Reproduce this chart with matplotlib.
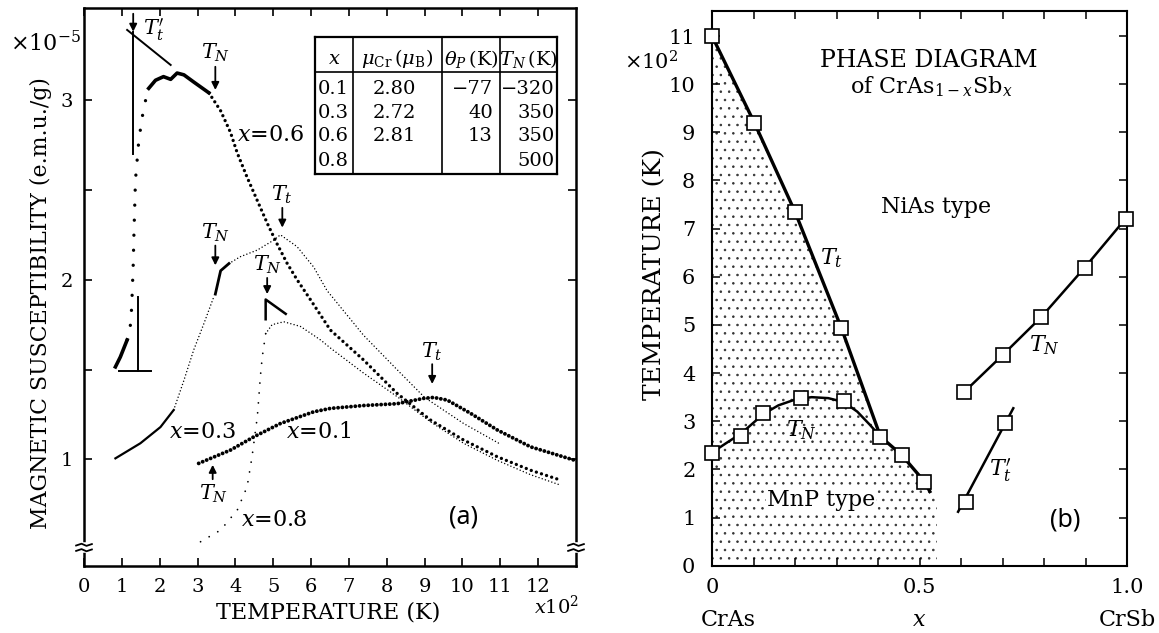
import numpy as np
import matplotlib.pyplot as plt
from matplotlib.patches import Polygon
from matplotlib.transforms import blended_transform_factory

plt.rcParams['font.family'] = 'DejaVu Serif'
plt.rcParams['mathtext.fontset'] = 'dejavuserif'
plt.rcParams['hatch.linewidth'] = 0.6

# ---------------- panel (a) data : T in 100 K, chi in 1e-5 emu/g ----------------
# x = 0.1
x01_T = [3.03, 3.87, 4.49, 5.19, 6.07, 6.51, 7.39, 8.27, 8.98, 9.24, 9.60, 10.21, 10.92, 11.80, 12.94]
x01_chi = [0.978, 1.052, 1.126, 1.20, 1.265, 1.284, 1.30, 1.31, 1.34, 1.345, 1.33, 1.257, 1.164, 1.07, 0.997]
# x = 0.3
x03_solid_T = [0.83, 1.49, 2.02, 2.37]
x03_solid_chi = [1.006, 1.09, 1.18, 1.275]
x03_rise_T = [2.37, 2.64, 2.90, 3.17, 3.43]
x03_rise_chi = [1.275, 1.44, 1.61, 1.757, 1.905]
x03_kink_T = [3.47, 3.61, 3.83]
x03_kink_chi = [1.92, 2.05, 2.09]
x03_T = [3.83, 4.13, 4.58, 5.01, 5.19, 5.63, 6.07, 6.42, 7.39, 8.27, 9.00, 10.03, 10.96]
x03_chi = [2.09, 2.128, 2.165, 2.22, 2.25, 2.184, 2.07, 1.94, 1.69, 1.50, 1.345, 1.20, 1.09]
# x = 0.6
x06_low_T = [0.83, 0.96, 1.14]
x06_low_chi = [1.515, 1.57, 1.665]
x06_rise_T = [1.14, 1.21, 1.25, 1.27, 1.30, 1.32, 1.36, 1.45, 1.58, 1.71]
x06_rise_chi = [1.665, 1.71, 1.81, 1.905, 2.08, 2.26, 2.555, 2.78, 2.96, 3.065]
x06_top_T = [1.71, 1.89, 2.10, 2.29, 2.46, 2.64, 2.90, 3.30]
x06_top_chi = [3.065, 3.11, 3.13, 3.115, 3.15, 3.14, 3.10, 3.04]
x06_T = [3.30, 3.61, 3.87, 4.05, 4.31, 4.58, 4.84, 5.10, 5.37, 5.63, 5.98, 6.51, 7.39, 8.27, 9.15, 10.03, 10.92, 11.80, 12.59]
x06_chi = [3.04, 2.94, 2.82, 2.705, 2.57, 2.44, 2.315, 2.20, 2.09, 2.00, 1.89, 1.72, 1.553, 1.368, 1.22, 1.108, 1.015, 0.94, 0.885]
# x = 0.8
x08_rise_T = [3.08, 3.61, 4.05, 4.31, 4.44, 4.58, 4.66, 4.71, 4.80]
x08_rise_chi = [0.542, 0.607, 0.718, 0.848, 1.015, 1.238, 1.46, 1.57, 1.70]
x08_T = [4.80, 4.97, 5.28, 5.72, 6.25, 6.51, 7.39, 8.27, 9.15, 10.03, 10.92, 11.80, 12.55]
x08_chi = [1.70, 1.75, 1.766, 1.74, 1.665, 1.62, 1.48, 1.35, 1.21, 1.09, 0.995, 0.915, 0.86]
x08_kink_T = [4.80, 4.80, 5.33]
x08_kink_chi = [1.78, 1.89, 1.81]

# construction lines for T_t'
tt_vert_up = ([1.30, 1.30], [2.70, 3.38])
tt_diag = ([1.14, 2.29], [3.39, 3.195])
tt_vert_low = ([1.42, 1.42], [1.49, 1.905])
tt_horiz = ([0.92, 1.78], [1.49, 1.49])

# table
tab_x = ['0.1', '0.3', '0.6', '0.8']
tab_mu = ['2.80', '2.72', '2.81', '']
tab_theta = ['\u221277', '40', '13', '']
tab_tn = ['\u2212320', '350', '350', '500']

# ---------------- panel (b) data ----------------
tt_pts_x = [0.0, 0.102, 0.200, 0.312, 0.406, 0.457, 0.512]
tt_pts_y = [11.0, 9.2, 7.35, 4.93, 2.68, 2.30, 1.745]
tt_line_x = [0.0, 0.102, 0.200, 0.312, 0.406, 0.457, 0.512, 0.525]
tt_line_y = [11.0, 9.2, 7.35, 4.93, 2.68, 2.30, 1.745, 1.54]
tn1_pts_x = [0.0, 0.071, 0.124, 0.215, 0.317]
tn1_pts_y = [2.35, 2.69, 3.18, 3.49, 3.43]
tn1_curve_x = [0.0, 0.035, 0.071, 0.10, 0.124, 0.16, 0.20, 0.24, 0.28, 0.317, 0.35, 0.38, 0.406]
tn1_curve_y = [2.35, 2.55, 2.75, 2.97, 3.15, 3.33, 3.45, 3.50, 3.48, 3.40, 3.20, 2.93, 2.68]
tn2_x = [0.608, 0.701, 0.793, 0.898, 0.997]
tn2_y = [3.61, 4.38, 5.16, 6.19, 7.21]
ttp_pts_x = [0.611, 0.705]
ttp_pts_y = [1.33, 2.97]
ttp_line_x = [0.593, 0.726]
ttp_line_y = [1.12, 3.27]
mnp_x = [0.0, 0.0, 0.102, 0.200, 0.312, 0.406, 0.457, 0.512, 0.525, 0.542, 0.542]
mnp_y = [0.0, 11.0, 9.2, 7.35, 4.93, 2.68, 2.30, 1.745, 1.54, 1.45, 0.0]

W, H = 1159, 633


def fpos(l, t, r, b):
    return [l / W, 1 - b / H, (r - l) / W, (b - t) / H]


fig = plt.figure(figsize=(W / 100, H / 100), dpi=100)

# ======================= (a) =======================
ax1 = fig.add_axes(fpos(84, 8, 576, 566))
ax1.set_xlim(0, 13)
ax1.set_ylim(0.407, 3.512)

heavy = dict(color='k', lw=2.4, linestyle=(0, (0.01, 1.6)), dash_capstyle='round')
heavy01 = dict(color='k', lw=2.8, linestyle=(0, (0.01, 1.1)), dash_capstyle='round')
thin = dict(color='k', lw=1.1, linestyle=(0, (0.01, 2.2)), dash_capstyle='round')
sparse_big = dict(color='k', lw=2.4, linestyle=(0, (0.01, 4.5)), dash_capstyle='round')
sparse_thin = dict(color='k', lw=1.3, linestyle=(0, (0.01, 5.5)), dash_capstyle='round')

ax1.plot(x01_T, x01_chi, **heavy01)
ax1.plot(x03_solid_T, x03_solid_chi, color='k', lw=1.6)
ax1.plot(x03_rise_T, x03_rise_chi, **thin)
ax1.plot(x03_kink_T, x03_kink_chi, color='k', lw=2.0)
ax1.plot(x03_T, x03_chi, **thin)
ax1.plot(x06_low_T, x06_low_chi, color='k', lw=2.6)
ax1.plot(x06_rise_T, x06_rise_chi, **sparse_big)
ax1.plot(x06_top_T, x06_top_chi, color='k', lw=2.6)
ax1.plot(x06_T, x06_chi, **heavy)
ax1.plot(x08_rise_T, x08_rise_chi, **sparse_thin)
ax1.plot(x08_T, x08_chi, **thin)
ax1.plot(x08_kink_T, x08_kink_chi, color='k', lw=1.8)

for xs, ys in (tt_vert_up, tt_diag, tt_vert_low, tt_horiz):
    ax1.plot(xs, ys, color='k', lw=1.4)

ax1.set_xticks(range(0, 13))
ax1.set_yticks([1, 1.5, 2, 2.5, 3], ['1', '', '2', '', '3'])
ax1.tick_params(direction='in', top=True, right=True, length=6, width=1.2,
                labelsize=14)
ax1.tick_params(axis='x', pad=9)
ax1.tick_params(axis='y', pad=8)
for s in ax1.spines.values():
    s.set_linewidth(1.8)

arrow = dict(arrowstyle='-|>', color='k', lw=1.3, mutation_scale=11, shrinkA=0, shrinkB=0)
lab = dict(fontsize=15, ha='center', va='center')
ax1.annotate('', xy=(1.30, 3.38), xytext=(1.30, 3.48), arrowprops=arrow)
ax1.text(1.55, 3.39, r"$T_t'$", fontsize=15, ha='left', va='center')
ax1.annotate('', xy=(3.47, 3.056), xytext=(3.47, 3.185), arrowprops=arrow)
ax1.text(3.47, 3.26, r'$T_N$', **lab)
ax1.annotate('', xy=(3.47, 2.08), xytext=(3.47, 2.19), arrowprops=arrow)
ax1.text(3.47, 2.26, r'$T_N$', **lab)
ax1.annotate('', xy=(5.24, 2.29), xytext=(5.24, 2.40), arrowprops=arrow)
ax1.text(5.24, 2.47, r'$T_t$', **lab)
ax1.annotate('', xy=(4.84, 1.92), xytext=(4.84, 2.01), arrowprops=arrow)
ax1.text(4.84, 2.08, r'$T_N$', **lab)
ax1.annotate('', xy=(3.40, 0.97), xytext=(3.40, 0.89), arrowprops=arrow)
ax1.text(3.43, 0.81, r'$T_N$', **lab)
ax1.annotate('', xy=(9.2, 1.42), xytext=(9.2, 1.53), arrowprops=arrow)
ax1.text(9.2, 1.60, r'$T_t$', **lab)

ax1.text(4.93, 2.805, r'$x$=0.6', fontsize=16, ha='center', va='center')
ax1.text(3.13, 1.155, r'$x$=0.3', fontsize=16, ha='center', va='center')
ax1.text(6.19, 1.155, r'$x$=0.1', fontsize=16, ha='center', va='center')
ax1.text(5.02, 0.663, r'$x$=0.8', fontsize=16, ha='center', va='center')
ax1.text(10.03, 0.68, '(a)', fontsize=18, family='Noto Sans', ha='center', va='center')

# axis break marks
for xa in (0, 1):
    tr = blended_transform_factory(ax1.transAxes, ax1.transData)
    ax1.plot([xa, xa], [0.495, 0.525], color='white', lw=4, transform=tr, clip_on=False, zorder=6)
    for yb in (0.495, 0.525):
        ax1.plot([xa - 0.016, xa - 0.005, xa + 0.005, xa + 0.016],
                 [yb - 0.004, yb + 0.006, yb - 0.006, yb + 0.004],
                 color='k', lw=1.3, transform=tr, clip_on=False, zorder=7)

fig.text(41 / W, 1 - 303 / H, 'MAGNETIC SUSCEPTIBILITY (e.m.u./g)', rotation=90,
         fontsize=15.8, ha='center', va='center')
fig.text(328 / W, 1 - 613 / H, 'TEMPERATURE (K)', fontsize=16, ha='center', va='center')
fig.text(45 / W, 1 - 44 / H, r'$\times10^{-5}$', fontsize=16, ha='center', va='center')
fig.text(557 / W, 1 - 606 / H, r'$x10^2$', fontsize=14, ha='center', va='center')

# table
tab = fig.add_axes(fpos(315, 37, 557, 174))
tab.set_xlim(0, 1)
tab.set_ylim(0, 1)
tab.set_xticks([])
tab.set_yticks([])
for s in tab.spines.values():
    s.set_linewidth(1.6)
for xv in (0.158, 0.524, 0.765):
    tab.axvline(xv, color='k', lw=1.2)
tab.axhline(0.745, color='k', lw=1.2)
tfs = 14
tab.text(0.079, 0.843, r'$x$', fontsize=tfs, ha='center', va='center')
tab.text(0.34, 0.843, r'$\mu_{\rm Cr}\,(\mu_{\rm B})$', fontsize=tfs, ha='center', va='center')
tab.text(0.645, 0.843, r'$\theta_P\,$(K)', fontsize=tfs, ha='center', va='center')
tab.text(0.882, 0.843, r'$T_N\,$(K)', fontsize=tfs, ha='center', va='center')
row_y = [0.624, 0.442, 0.277, 0.095]
for i, yy in enumerate(row_y):
    tab.text(0.012, yy, tab_x[i], fontsize=tfs, ha='left', va='center')
    tab.text(0.33, yy, tab_mu[i], fontsize=tfs, ha='center', va='center')
    tab.text(0.735, yy, tab_theta[i], fontsize=tfs, ha='right', va='center')
    tab.text(0.99, yy, tab_tn[i], fontsize=tfs, ha='right', va='center')

# ======================= (b) =======================
ax2 = fig.add_axes(fpos(712, 10.5, 1127, 565.7))
ax2.set_xlim(0, 1)
ax2.set_ylim(0, 11.53)

ax2.add_patch(Polygon(np.column_stack([mnp_x, mnp_y]), closed=True, facecolor='none',
                      edgecolor='#333333', lw=0, hatch='..', zorder=1))
ax2.plot(tt_line_x, tt_line_y, color='k', lw=2.4, zorder=3)
ax2.plot(tn1_curve_x, tn1_curve_y, color='k', lw=1.8, zorder=3)
ax2.plot(tn2_x, tn2_y, color='k', lw=1.8, zorder=3)
ax2.plot(ttp_line_x, ttp_line_y, color='k', lw=1.8, zorder=3)
sq = dict(ls='none', marker='s', ms=10, mfc='white', mec='k', mew=1.2, zorder=4, clip_on=False)
ax2.plot(tt_pts_x, tt_pts_y, **sq)
ax2.plot(tn1_pts_x, tn1_pts_y, **sq)
ax2.plot(tn2_x, tn2_y, **sq)
ax2.plot(ttp_pts_x, ttp_pts_y, **sq)

b_xticks = np.round(np.arange(0, 1.01, 0.1), 1)
b_xlabels = ['0', '', '', '', '', '0.5', '', '', '', '', '1.0']
ax2.set_xticks(b_xticks, b_xlabels)
ax2.set_yticks(range(0, 12))
ax2.tick_params(direction='in', top=True, right=True, length=6, width=1.1, labelsize=15)
ax2.tick_params(axis='x', pad=9)
ax2.tick_params(axis='y', pad=12)
for s in ax2.spines.values():
    s.set_linewidth(1.5)

trb = blended_transform_factory(ax2.transData, ax2.transAxes)
ax2.text(0.04, -0.098, 'CrAs', fontsize=16, ha='center', va='center', transform=trb)
ax2.text(0.5, -0.098, r'$x$', fontsize=16, ha='center', va='center', transform=trb)
ax2.text(1.0, -0.098, 'CrSb', fontsize=16, ha='center', va='center', transform=trb)

ax2.text(0.523, 10.50, 'PHASE DIAGRAM', fontsize=17, ha='center', va='center')
ax2.text(0.529, 9.94, r'of CrAs$_{1-x}$Sb$_x$', fontsize=16, ha='center', va='center')
ax2.text(0.54, 7.45, 'NiAs type', fontsize=16, ha='center', va='center')
ax2.text(0.288, 6.38, r'$T_t$', fontsize=16, ha='center', va='center')
ax2.text(0.215, 2.82, r'$T_N$', fontsize=16, ha='center', va='center')
ax2.text(0.263, 1.36, 'MnP type', fontsize=16, ha='center', va='center',
         bbox=dict(facecolor='white', edgecolor='none', pad=0.5))
ax2.text(0.80, 4.58, r'$T_N$', fontsize=16, ha='center', va='center')
ax2.text(0.696, 1.99, r"$T_t'$", fontsize=16, ha='center', va='center')
ax2.text(0.851, 0.95, '(b)', fontsize=18, family='Noto Sans', ha='center', va='center')

fig.text(655 / W, 1 - 274 / H, 'TEMPERATURE (K)', rotation=90, fontsize=18,
         ha='center', va='center')
fig.text(651 / W, 1 - 62 / H, r'$\times10^2$', fontsize=15, ha='center', va='center')

fig.savefig('out.png', dpi=100)
